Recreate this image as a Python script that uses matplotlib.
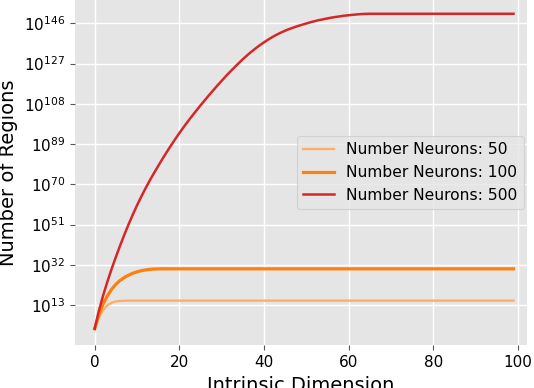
import matplotlib
matplotlib.use("Agg")
import matplotlib.pyplot as plt
from matplotlib.ticker import NullLocator

# intrinsic dimension on the x axis
dims = list(range(100))

# log10(number of regions)
log_regions_50 = [
    1.8, 7.0, 10.6, 12.9, 14.1, 14.7, 14.95, 15.03, 15.08, 15.1,
    15.1, 15.1, 15.1, 15.1, 15.1, 15.1, 15.1, 15.1, 15.1, 15.1,
    15.1, 15.1, 15.1, 15.1, 15.1, 15.1, 15.1, 15.1, 15.1, 15.1,
    15.1, 15.1, 15.1, 15.1, 15.1, 15.1, 15.1, 15.1, 15.1, 15.1,
    15.1, 15.1, 15.1, 15.1, 15.1, 15.1, 15.1, 15.1, 15.1, 15.1,
    15.1, 15.1, 15.1, 15.1, 15.1, 15.1, 15.1, 15.1, 15.1, 15.1,
    15.1, 15.1, 15.1, 15.1, 15.1, 15.1, 15.1, 15.1, 15.1, 15.1,
    15.1, 15.1, 15.1, 15.1, 15.1, 15.1, 15.1, 15.1, 15.1, 15.1,
    15.1, 15.1, 15.1, 15.1, 15.1, 15.1, 15.1, 15.1, 15.1, 15.1,
    15.1, 15.1, 15.1, 15.1, 15.1, 15.1, 15.1, 15.1, 15.1, 15.1,
]
log_regions_100 = [
    1.8, 8.5, 13.5, 17.3, 20.4, 22.8, 24.6, 26.0, 27.1, 28.0,
    28.7, 29.2, 29.6, 29.85, 30.0, 30.07, 30.1, 30.1, 30.1, 30.1,
    30.1, 30.1, 30.1, 30.1, 30.1, 30.1, 30.1, 30.1, 30.1, 30.1,
    30.1, 30.1, 30.1, 30.1, 30.1, 30.1, 30.1, 30.1, 30.1, 30.1,
    30.1, 30.1, 30.1, 30.1, 30.1, 30.1, 30.1, 30.1, 30.1, 30.1,
    30.1, 30.1, 30.1, 30.1, 30.1, 30.1, 30.1, 30.1, 30.1, 30.1,
    30.1, 30.1, 30.1, 30.1, 30.1, 30.1, 30.1, 30.1, 30.1, 30.1,
    30.1, 30.1, 30.1, 30.1, 30.1, 30.1, 30.1, 30.1, 30.1, 30.1,
    30.1, 30.1, 30.1, 30.1, 30.1, 30.1, 30.1, 30.1, 30.1, 30.1,
    30.1, 30.1, 30.1, 30.1, 30.1, 30.1, 30.1, 30.1, 30.1, 30.1,
]
log_regions_500 = [
    1.8, 10.3, 17.5, 24.0, 30.0, 35.6, 41.0, 46.1, 51.0, 55.6,
    60.0, 64.1, 68.0, 71.7, 75.2, 78.6, 81.9, 85.1, 88.2, 91.2,
    94.1, 96.9, 99.6, 102.2, 104.7, 107.2, 109.6, 112.0, 114.3, 116.6,
    118.8, 121.0, 123.1, 125.1, 127.1, 129.0, 130.8, 132.5, 134.1, 135.6,
    137.0, 138.3, 139.5, 140.6, 141.6, 142.5, 143.3, 144.0, 144.7, 145.3,
    145.9, 146.5, 147.0, 147.5, 147.9, 148.3, 148.7, 149.0, 149.3, 149.6,
    149.8, 150.0, 150.2, 150.35, 150.45, 150.5, 150.5, 150.5, 150.5, 150.5,
    150.5, 150.5, 150.5, 150.5, 150.5, 150.5, 150.5, 150.5, 150.5, 150.5,
    150.5, 150.5, 150.5, 150.5, 150.5, 150.5, 150.5, 150.5, 150.5, 150.5,
    150.5, 150.5, 150.5, 150.5, 150.5, 150.5, 150.5, 150.5, 150.5, 150.5,
]

series = [
    ("Number Neurons: 50", log_regions_50, "#fdae6b", 1.7),
    ("Number Neurons: 100", log_regions_100, "#ff7f0e", 2.3),
    ("Number Neurons: 500", log_regions_500, "#d62728", 1.8),
]

y_tick_exponents = [13, 32, 51, 70, 89, 108, 127, 146]


def main() -> None:
    fig = plt.figure(figsize=(5.34, 3.88), dpi=100)
    ax = fig.add_axes([0.140, 0.110, 0.847, 0.890])
    ax.set_facecolor("#e5e5e5")
    for spine in ax.spines.values():
        spine.set_visible(False)
    ax.set_axisbelow(True)
    ax.grid(True, color="white", linewidth=1.0)

    for label, logs, color, lw in series:
        ax.plot(dims, [10.0 ** v for v in logs], color=color, linewidth=lw, label=label)

    ax.set_yscale("log")
    ax.set_yticks([10.0 ** k for k in y_tick_exponents])
    ax.yaxis.set_minor_locator(NullLocator())
    ax.set_ylim(1e-6, 1e157)
    ax.set_xlim(-4.7, 102.2)
    ax.set_xticks([0, 20, 40, 60, 80, 100])

    ax.tick_params(axis="both", labelsize=11, color="#555555", labelcolor="black")
    ax.set_xlabel("Intrinsic Dimension", fontsize=14)
    ax.set_ylabel("Number of Regions", fontsize=14)

    leg = ax.legend(loc="center right", fontsize=11.2, facecolor="#e5e5e5",
                    edgecolor="#cccccc", framealpha=0.8, borderaxespad=0.2)
    leg.get_frame().set_linewidth(0.8)

    fig.savefig("out.png", dpi=100)


if __name__ == "__main__":
    main()
